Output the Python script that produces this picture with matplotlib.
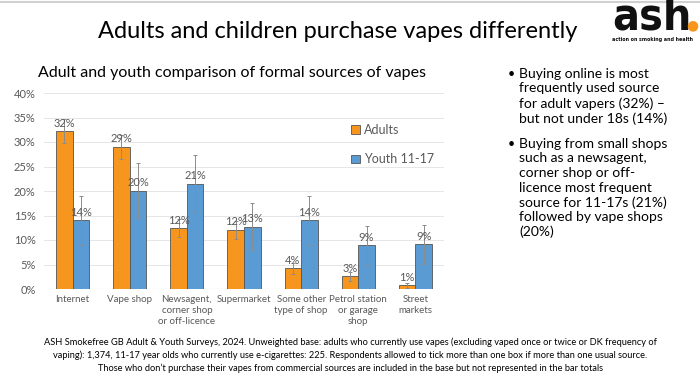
import matplotlib.pyplot as plt
import numpy as np

plt.rcParams['font.family'] = ['Lato', 'DejaVu Sans']

categories = ['Internet', 'Vape shop', 'Newsagent,\ncorner shop\nor off-licence', 'Supermarket',
              'Some other\ntype of shop', 'Petrol station\nor garage\nshop', 'Street\nmarkets']
adults = [32.2, 29.0, 12.4, 12.1, 4.2, 2.6, 0.8]
youth = [14.0, 20.1, 21.5, 12.7, 14.0, 8.9, 9.1]
adults_err = [2.5, 2.4, 1.8, 1.8, 1.1, 0.9, 0.5]
youth_err = [5.0, 5.7, 5.8, 4.8, 5.0, 4.0, 4.0]
adults_lbl = ['32%', '29%', '12%', '12%', '4%', '3%', '1%']
youth_lbl = ['14%', '20%', '21%', '13%', '14%', '9%', '9%']

bullets = [
    'Buying online is most\nfrequently used source\nfor adult vapers (32%) –\nbut not under 18s (14%)',
    'Buying from small shops\nsuch as a newsagent,\ncorner shop or off-\nlicence most frequent\nsource for 11-17s (21%)\nfollowed by vape shops\n(20%)',
]
footnote = ('ASH Smokefree GB Adult & Youth Surveys, 2024. Unweighted base: adults who currently use vapes '
            '(excluding vaped once or twice or DK frequency of\nvaping): 1,374, 11-17 year olds who currently use '
            'e-cigarettes: 225. Respondents allowed to tick more than one box if more than one usual source.\n'
            'Those who don\u2019t purchase their vapes from commercial sources are included in the base but not '
            'represented in the bar totals')

orange = '#F7961E'
blue = '#5A9BD3'
grey = '#595959'

fig = plt.figure(figsize=(7, 3.82), dpi=100)
ax = fig.add_axes([44 / 700, 1 - 289 / 382, 400 / 700, 196 / 382])

x = np.arange(len(categories))
w = 0.29
ek = dict(ecolor='#8c8c8c', elinewidth=0.7, capsize=1.5, capthick=0.7)
ax.bar(x - w / 2, adults, w, color=orange, edgecolor='#555555', linewidth=0.6,
       yerr=adults_err, error_kw=ek, label='Adults', zorder=2)
ax.bar(x + w / 2, youth, w, color=blue, edgecolor='#555555', linewidth=0.6,
       yerr=youth_err, error_kw=ek, label='Youth 11-17', zorder=2)

for i in range(len(categories)):
    ax.text(x[i] - w / 2, adults[i] + 0.5, adults_lbl[i], ha='center', va='bottom', fontsize=8, color=grey)
    ax.text(x[i] + w / 2, youth[i] + 0.5, youth_lbl[i], ha='center', va='bottom', fontsize=8, color=grey)

ax.set_xlim(-0.5, len(categories) - 0.5)
ax.set_ylim(0, 40)
ax.set_yticks(np.arange(0, 41, 5))
ax.set_yticklabels([f'{v}%' for v in range(0, 41, 5)])
ax.set_xticks(x)
ax.set_xticklabels(categories, fontsize=7, color=grey, linespacing=1.3)
ax.tick_params(axis='y', labelsize=8, labelcolor=grey, length=0, pad=6)
ax.tick_params(axis='x', length=0, pad=4)
ax.grid(axis='y', color='#e6e6e6', linewidth=0.7, zorder=0)
for s in ax.spines.values():
    s.set_visible(False)
ax.axhline(0, color='#d9d9d9', linewidth=0.8, zorder=1)

ax.legend(loc='upper left', bbox_to_anchor=(0.74, 0.9), frameon=False, fontsize=9,
          labelcolor=grey, handlelength=0.7, handleheight=0.7, handletextpad=0.3, labelspacing=1.4)

fig.text(338 / 700, 1 - 32 / 382, 'Adults and children purchase vapes differently',
         ha='center', va='center', fontsize=17)
fig.text(232 / 700, 1 - 73 / 382, 'Adult and youth comparison of formal sources of vapes',
         ha='center', va='center', fontsize=11.5)

# logo
fig.text(612 / 700, 1 - 30 / 382, 'ash', ha='left', va='baseline', fontsize=32,
         fontweight='bold', family='DejaVu Sans', fontstretch='condensed', color='#111111')
fig.text(692 / 700, 1 - 25 / 382, '\u25cf', ha='center', va='center', fontsize=10,
         family='DejaVu Sans', color=orange)
fig.text(652 / 700, 1 - 39 / 382, 'action on smoking and health', ha='center', va='center',
         fontsize=3.9, fontweight='bold', family='DejaVu Sans', fontstretch='condensed', color='#111111')

# top edge line
fig.add_artist(plt.Line2D([0, 1], [1 - 1.5 / 382, 1 - 1.5 / 382], color='#d0d0d0', linewidth=1.5))

by = [68, 138]
for t, yy in zip(bullets, by):
    fig.text(508 / 700, 1 - yy / 382, '\u2022', ha='left', va='top', fontsize=9)
    fig.text(519 / 700, 1 - yy / 382, t, ha='left', va='top', fontsize=10, linespacing=1.25)

fig.text(350 / 700, 1 - 355 / 382, footnote, ha='center', va='center', fontsize=6.7, linespacing=1.45)

fig.savefig('out.png', dpi=100)
